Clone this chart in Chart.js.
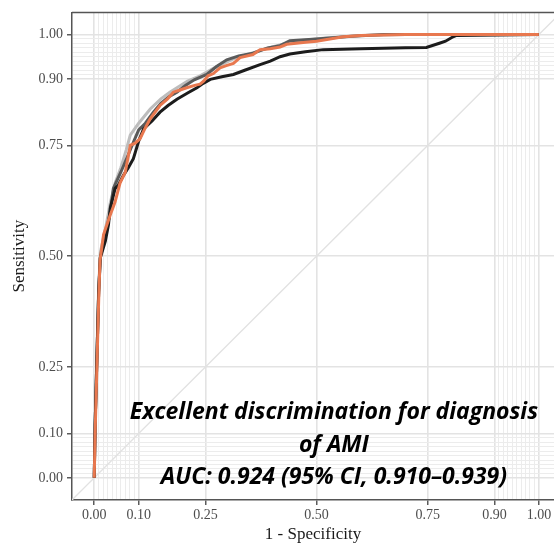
<!DOCTYPE html>
<html>
<head>
<meta charset="utf-8">
<script src="https://cdn.jsdelivr.net/npm/chart.js@4.4.1/dist/chart.umd.min.js"></script>
<style>
  html, body { margin: 0; padding: 0; background: #fff; }
  #wrap { width: 554px; height: 543px; position: relative; }
</style>
</head>
<body>
<div id="wrap"><canvas id="roc"></canvas></div>
<script>
// ROC curves: x = 1 - specificity, y = sensitivity
const orangeFpr = [0, 0.002, 0.006, 0.010, 0.013, 0.021, 0.035, 0.047, 0.058, 0.070, 0.081, 0.092, 0.103, 0.115, 0.126, 0.137, 0.148, 0.165, 0.178, 0.193, 0.208, 0.228, 0.238, 0.246, 0.256, 0.268, 0.283, 0.297, 0.313, 0.328, 0.357, 0.373, 0.396, 0.418, 0.433, 0.470, 0.500, 0.530, 0.560, 0.600, 0.700, 1]
const orangeTpr = [0, 0.100, 0.250, 0.400, 0.490, 0.549, 0.590, 0.623, 0.665, 0.690, 0.750, 0.755, 0.765, 0.790, 0.810, 0.825, 0.840, 0.855, 0.870, 0.875, 0.880, 0.886, 0.888, 0.895, 0.907, 0.912, 0.925, 0.930, 0.935, 0.948, 0.955, 0.966, 0.968, 0.972, 0.978, 0.982, 0.985, 0.990, 0.995, 0.998, 1.000, 1]

const blackFpr = [0, 0.002, 0.006, 0.010, 0.0135, 0.025, 0.032, 0.036, 0.047, 0.054, 0.066, 0.077, 0.088, 0.100, 0.111, 0.130, 0.148, 0.166, 0.186, 0.210, 0.231, 0.245, 0.261, 0.287, 0.313, 0.340, 0.373, 0.396, 0.418, 0.440, 0.475, 0.515, 0.600, 0.700, 0.747, 0.778, 0.790, 0.807, 0.815, 1]
const blackTpr = [0, 0.120, 0.270, 0.420, 0.496, 0.534, 0.571, 0.608, 0.653, 0.660, 0.683, 0.700, 0.720, 0.760, 0.787, 0.805, 0.825, 0.840, 0.854, 0.868, 0.880, 0.890, 0.899, 0.905, 0.910, 0.920, 0.932, 0.940, 0.950, 0.956, 0.961, 0.966, 0.968, 0.970, 0.971, 0.981, 0.985, 0.995, 0.998, 1]

const darkFpr = [0, 0.002, 0.006, 0.010, 0.014, 0.025, 0.036, 0.043, 0.060, 0.075, 0.088, 0.100, 0.115, 0.133, 0.150, 0.168, 0.186, 0.205, 0.225, 0.253, 0.275, 0.298, 0.325, 0.357, 0.390, 0.418, 0.440, 0.500, 0.580, 0.650, 1]
const darkTpr = [0, 0.120, 0.270, 0.420, 0.500, 0.545, 0.600, 0.653, 0.690, 0.725, 0.757, 0.785, 0.800, 0.825, 0.845, 0.860, 0.870, 0.885, 0.898, 0.910, 0.928, 0.943, 0.952, 0.958, 0.970, 0.975, 0.986, 0.990, 0.996, 1.000, 1]

const lightFpr = [0, 0.002, 0.006, 0.010, 0.014, 0.025, 0.036, 0.047, 0.060, 0.072, 0.081, 0.100, 0.126, 0.150, 0.170, 0.186, 0.210, 0.238, 0.270, 0.313, 0.350, 0.400, 0.450, 0.520, 0.600, 0.700, 1]
const lightTpr = [0, 0.120, 0.280, 0.430, 0.510, 0.560, 0.620, 0.665, 0.700, 0.740, 0.773, 0.800, 0.832, 0.855, 0.870, 0.880, 0.895, 0.907, 0.925, 0.945, 0.957, 0.972, 0.985, 0.992, 0.998, 1.000, 1]

// reference diagonal, runs past the corners and is clipped
const diagonal = [-0.05, 1.05]

const majorTicks = [0, 0.10, 0.25, 0.50, 0.75, 0.90, 1.00]
const minorTicks = [0.01, 0.02, 0.03, 0.04, 0.05, 0.06, 0.07, 0.08, 0.09, 0.91, 0.92, 0.93, 0.94, 0.95, 0.96, 0.97, 0.98, 0.99]

const noteLines = ['Excellent discrimination for diagnosis', 'of AMI', 'AUC: 0.924 (95% CI, 0.910\u20130.939)']
const noteX = 0.539
const noteY = [0.147, 0.073, 0.001]

const toPoints = (xs, ys) => xs.map((x, i) => ({ x: x, y: ys[i] }))
const isMajor = v => majorTicks.some(m => Math.abs(m - v) < 1e-6)
const allTicks = majorTicks.concat(minorTicks).sort((a, b) => a - b)

const curve = (pts, color) => ({
    data: pts,
    showLine: true,
    borderColor: color,
    borderWidth: 3,
    pointRadius: 0,
    tension: 0,
    fill: false
})

const serif = "'Liberation Serif', 'DejaVu Serif', serif"

const axisOpts = (title, isY) => ({
    type: 'linear',
    min: -0.05,
    max: isY ? 1.05 : 1.034,
    afterBuildTicks: scale => { scale.ticks = allTicks.map(v => ({ value: v })) },
    afterFit: scale => {
        if (isY) scale.width = 72
        else scale.height = 43
    },
    grid: {
        color: ctx => isMajor(ctx.tick.value) ? '#e3e3e3' : '#ececec',
        lineWidth: ctx => isMajor(ctx.tick.value) ? 1.6 : 1,
        tickColor: ctx => isMajor(ctx.tick.value) ? '#333333' : 'rgba(0,0,0,0)',
        tickLength: 5,
        tickWidth: 1.2
    },
    border: { display: true, color: '#555555', width: 1.5 },
    ticks: {
        autoSkip: false,
        maxRotation: 0,
        padding: isY ? 4 : 2,
        color: '#4d4d4d',
        font: { family: serif, size: 14 },
        callback: v => isMajor(v) ? Number(v).toFixed(2) : ''
    },
    title: {
        display: true,
        text: title,
        color: '#1a1a1a',
        font: { family: serif, size: 17, lineHeight: 1 },
        padding: isY ? { top: 11.5, bottom: 0 } : { top: 0, bottom: 0 }
    }
})

const framePlugin = {
    id: 'frame',
    afterDraw(chart) {
        const { ctx, chartArea } = chart
        ctx.save()
        ctx.strokeStyle = '#555555'
        ctx.lineWidth = 1.5
        ctx.beginPath()
        ctx.moveTo(chartArea.left, chartArea.top)
        ctx.lineTo(chartArea.right, chartArea.top)
        ctx.stroke()
        ctx.restore()
    }
}

const notePlugin = {
    id: 'note',
    afterDatasetsDraw(chart) {
        const { ctx } = chart
        const xs = chart.scales.x
        const ys = chart.scales.y
        ctx.save()
        ctx.fillStyle = '#000000'
        ctx.textAlign = 'center'
        ctx.textBaseline = 'middle'
        ctx.font = "italic bold 23px 'Open Sans', Lato, sans-serif"
        noteLines.forEach((line, i) => {
            ctx.fillText(line, xs.getPixelForValue(noteX), ys.getPixelForValue(noteY[i]))
        })
        ctx.restore()
    }
}

let rocChart = new Chart(document.getElementById('roc').getContext('2d'), {
    type: 'scatter',
    data: {
        datasets: [
            curve(toPoints(orangeFpr, orangeTpr), '#e8784f'),
            curve(toPoints(blackFpr, blackTpr), '#1c1c1c'),
            curve(toPoints(darkFpr, darkTpr), '#5a5a5a'),
            curve(toPoints(lightFpr, lightTpr), '#bdbdbd'),
            Object.assign(curve(toPoints(diagonal, diagonal), '#e2e2e2'), { borderWidth: 1.3 })
        ]
    },
    options: {
        responsive: true,
        maintainAspectRatio: false,
        animation: false,
        layout: { padding: { top: 10, right: 0, bottom: 0, left: 0 } },
        plugins: {
            legend: { display: false },
            tooltip: { enabled: false }
        },
        scales: {
            x: axisOpts('1 - Specificity', false),
            y: axisOpts('Sensitivity', true)
        }
    },
    plugins: [framePlugin, notePlugin]
})
</script>
</body>
</html>
